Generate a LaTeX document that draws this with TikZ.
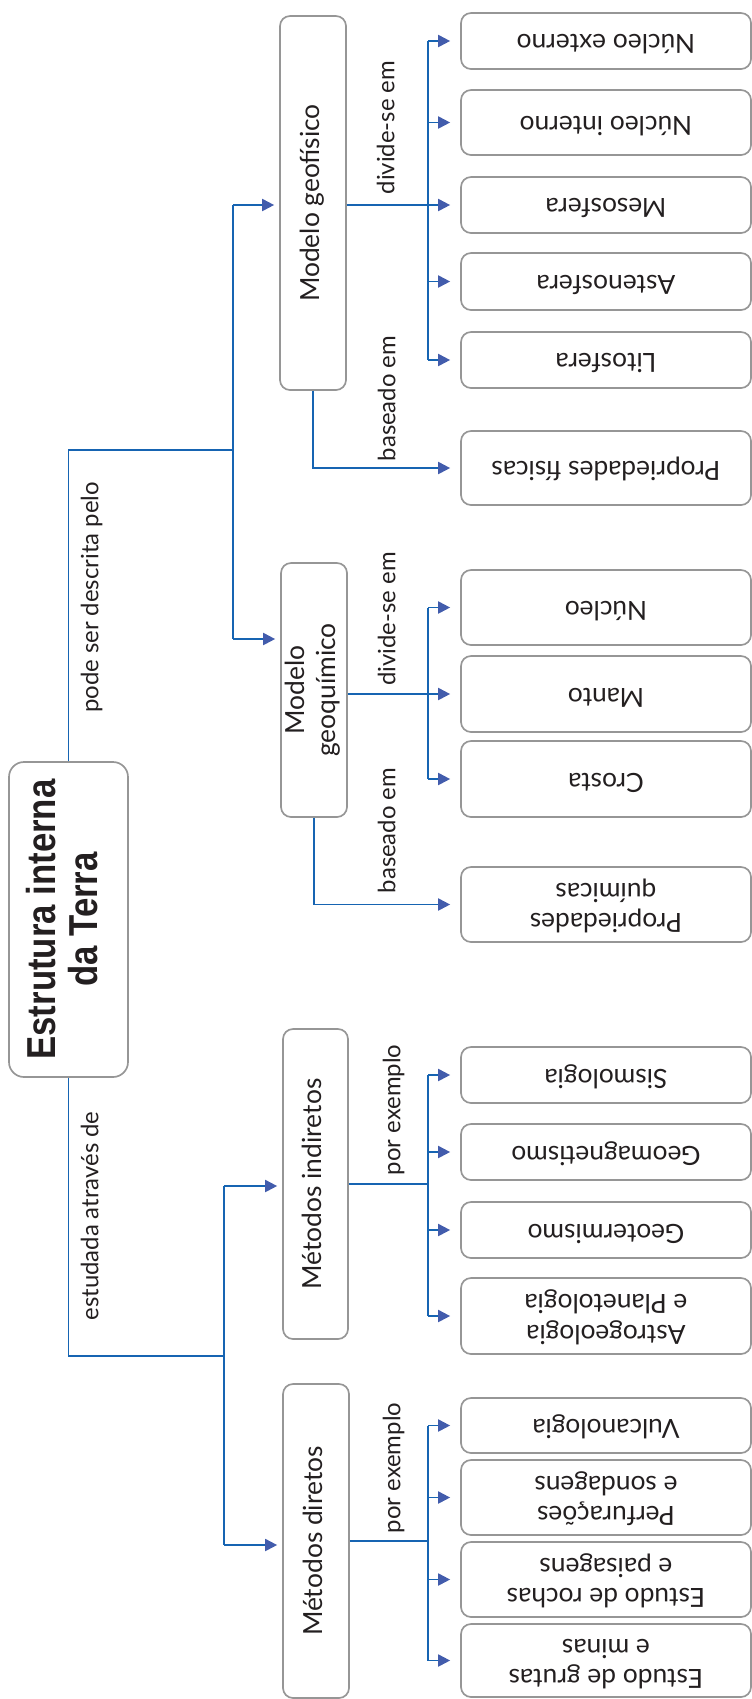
\documentclass[tikz,border=0pt]{standalone}
\usepackage{tikz}
\usetikzlibrary{arrows.meta}
\usepackage{xcolor}
\usepackage{graphicx}
\usepackage{fontspec}
\setmainfont{Lato}
\newfontfamily\rootfont[FakeStretch=0.86]{Liberation Sans}
\definecolor{linkblue}{RGB}{22,100,178}
\definecolor{tipblue}{RGB}{66,92,172}
\definecolor{boxgray}{RGB}{150,150,150}
\definecolor{inkgray}{RGB}{35,31,32}
\newcommand{\uptext}[1]{\rotatebox{90}{\begin{tabular}{@{}c@{}}#1\end{tabular}}}
\newcommand{\downtext}[1]{\rotatebox{180}{\begin{tabular}{@{}c@{}}#1\end{tabular}}}
\renewcommand{\arraystretch}{0.95}

\begin{document}
\begin{tikzpicture}[x=0.2mm,y=-0.2mm,
    box/.style={draw=boxgray,line width=0.95pt,rounded corners=2mm,fill=white,
                inner sep=0pt,text=inkgray,font=\fontsize{15}{18}\selectfont},
    rootbox/.style={box,rounded corners=3mm,
                    font=\rootfont\bfseries\fontsize{23}{25}\selectfont},
    leaf/.style={box,minimum width=58mm},
    link/.style={draw=linkblue,line width=1.1pt},
    arrow/.style={link,-{Triangle[length=2.4mm,width=2.4mm,color=tipblue]}},
    tag/.style={text=inkgray,inner sep=0pt,font=\fontsize{13.6}{16}\selectfont}]
  \useasboundingbox (0,0) rectangle (752,1699);

  % root
  \node[rootbox,minimum width=23.8mm,minimum height=63mm] (root) at (68.5,919.5)
    {\uptext{Estrutura interna\\da Terra}};

  % models and methods
  \node[box,minimum width=13.2mm,minimum height=74.8mm] (geof) at (313,203)
    {\uptext{Modelo geofísico}};
  \node[box,minimum width=13.2mm,minimum height=50.8mm] (geoq) at (314,690)
    {\uptext{Modelo\\geoquímico}};
  \node[box,minimum width=13mm,minimum height=62mm] (indir) at (315.5,1184)
    {\uptext{Métodos indiretos}};
  \node[box,minimum width=13.2mm,minimum height=62.8mm] (dir) at (316,1541)
    {\uptext{Métodos diretos}};

  % leaves, geophysical model
  \node[leaf,minimum height=11.2mm] (nucExt) at (606,41) {\downtext{Núcleo externo}};
  \node[leaf,minimum height=13mm] (nucInt) at (606,122.5) {\downtext{Núcleo interno}};
  \node[leaf,minimum height=11.2mm] (meso) at (606,205) {\downtext{Mesosfera}};
  \node[leaf,minimum height=11.4mm] (asteno) at (606,281.5) {\downtext{Astenosfera}};
  \node[leaf,minimum height=11.2mm] (lito) at (606,360) {\downtext{Litosfera}};
  \node[leaf,minimum height=14.8mm] (propFis) at (606,468) {\downtext{Propriedades físicas}};

  % leaves, geochemical model
  \node[leaf,minimum height=15mm] (nucleo) at (606,607.5) {\downtext{Núcleo}};
  \node[leaf,minimum height=15.2mm] (manto) at (606,694) {\downtext{Manto}};
  \node[leaf,minimum height=15.2mm] (crosta) at (606,779) {\downtext{Crosta}};
  \node[leaf,minimum height=15mm] (propQui) at (606,904.5) {\downtext{Propriedades\\químicas}};

  % leaves, indirect methods
  \node[leaf,minimum height=11.2mm] (sismo) at (606,1075) {\downtext{Sismologia}};
  \node[leaf,minimum height=11.2mm] (geomag) at (606,1152) {\downtext{Geomagnetismo}};
  \node[leaf,minimum height=11.2mm] (geoterm) at (606,1230) {\downtext{Geotermismo}};
  \node[leaf,minimum height=15.2mm] (astro) at (606,1316) {\downtext{Astrogeologia\\e Planetologia}};

  % leaves, direct methods
  \node[leaf,minimum height=11mm] (vulc) at (606,1425.5) {\downtext{Vulcanologia}};
  \node[leaf,minimum height=15mm] (perf) at (606,1497.5) {\downtext{Perfurações\\e sondagens}};
  \node[leaf,minimum height=15mm] (rochas) at (606,1579.5) {\downtext{Estudo de rochas\\e paisagens}};
  \node[leaf,minimum height=14.6mm] (grutas) at (606,1660.5) {\downtext{Estudo de grutas\\e minas}};

  % trunks from the root
  \coordinate (upT) at (233,450);
  \coordinate (geofIn) at (233,205);
  \coordinate (geoqIn) at (233,639);
  \coordinate (dnT) at (224,1356);
  \coordinate (indIn) at (224,1186);
  \coordinate (dirIn) at (224,1545);
  \draw[link] (root.north) |- (upT);
  \draw[link] (geofIn) -- (geoqIn);
  \draw[link] (root.south) |- (dnT);
  \draw[link] (indIn) -- (dirIn);
  \draw[arrow,shorten >=1mm] (geofIn) -- (geofIn -| geof.west);
  \draw[arrow,shorten >=1mm] (geoqIn) -- (geoqIn -| geoq.west);
  \draw[arrow,shorten >=1mm] (indIn) -- (indIn -| indir.west);
  \draw[arrow,shorten >=1mm] (dirIn) -- (dirIn -| dir.west);

  % buses to the leaves
  \coordinate (bus) at (428,0);
  \draw[link] (bus |- nucExt.west) -- (bus |- lito.west);
  \draw[link] (bus |- nucleo.west) -- (bus |- crosta.west);
  \draw[link] (bus |- sismo.west) -- (bus |- astro.west);
  \draw[link] (bus |- vulc.west) -- (bus |- grutas.west);
  \draw[arrow,shorten >=2mm] (geof.east |- meso.west) -- (meso.west);
  \draw[arrow,shorten >=2mm] (geoq.east |- manto.west) -- (manto.west);
  \draw[link] (indir.east) -- (indir.east -| bus);
  \draw[link] (dir.east) -- (dir.east -| bus);
  \foreach \n in {nucExt,nucInt,asteno,lito,nucleo,crosta,sismo,geomag,geoterm,astro,vulc,perf,rochas,grutas}
    \draw[arrow,shorten >=2mm] (bus |- \n.west) -- (\n.west);
  \draw[arrow,shorten >=2mm] (geof.south) |- (propFis.west);
  \draw[arrow,shorten >=2mm] (geoq.south) |- (propQui.west);

  % link words
  \node[tag] (lblDesc) at (93,597.5) {\uptext{pode ser descrita pelo}};
  \node[tag] (lblEstud) at (93,1216) {\uptext{estudada através de}};
  \node[tag] (lblDivGf) at (389,127.5) {\uptext{divide-se em}};
  \node[tag] (lblBasGf) at (390,398.5) {\uptext{baseado em}};
  \node[tag] (lblDivGq) at (390,619) {\uptext{divide-se em}};
  \node[tag] (lblBasGq) at (390,830.5) {\uptext{baseado em}};
  \node[tag] (lblExInd) at (395,1110) {\uptext{por exemplo}};
  \node[tag] (lblExDir) at (395,1468) {\uptext{por exemplo}};
\end{tikzpicture}
\end{document}
